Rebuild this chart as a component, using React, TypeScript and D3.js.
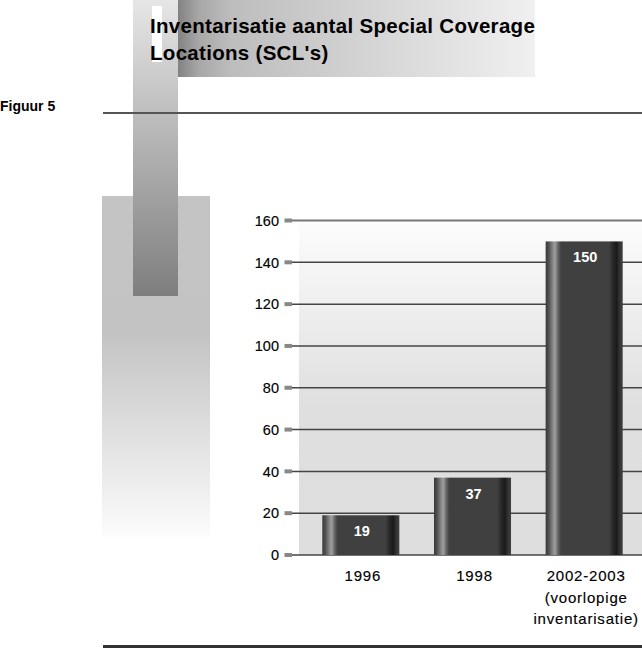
import * as d3 from 'd3'

const categories = ['1996', '1998', '2002-2003']
const counts = [19, 37, 150]
const categoryLabels = [['1996'], ['1998'], ['2002-2003', '(voorlopige', 'inventarisatie)']]
const yTicks = [0, 20, 40, 60, 80, 100, 120, 140, 160]
const titleLines = ['Inventarisatie aantal Special Coverage', "Locations (SCL's)"]

const W = 642
const H = 649
const FONT = '"Liberation Sans", Arial, Helvetica, sans-serif'

function App() {
  const y = d3.scaleLinear().domain([0, 160]).range([555, 220.5])
  const x = d3.scaleBand<string>()
    .domain(categories)
    .range([305, 640])
    .paddingInner(0.31)
    .paddingOuter(0.155)

  const plotLeft = 299
  const plotRight = 642

  return (
    <svg width={W} height={H} style={{ position: 'absolute', left: 0, top: 0, background: '#fff' }}>
      <defs>
        <linearGradient id="wide" x1="0" y1="0" x2="0" y2="1">
          <stop offset="0" stopColor="#c4c4c4" />
          <stop offset="0.4" stopColor="#c3c3c3" />
          <stop offset="1" stopColor="#fcfcfc" />
        </linearGradient>
        <linearGradient id="narrow" x1="0" y1="0" x2="0" y2="1">
          <stop offset="0" stopColor="#e6e6e6" />
          <stop offset="1" stopColor="#7e7e7e" />
        </linearGradient>
        <linearGradient id="banner" x1="0" y1="0" x2="1" y2="0">
          <stop offset="0" stopColor="#828282" />
          <stop offset="0.06" stopColor="#a8a8a8" />
          <stop offset="0.15" stopColor="#bdbdbd" />
          <stop offset="0.45" stopColor="#cfcfcf" />
          <stop offset="1" stopColor="#f0f0f0" />
        </linearGradient>
        <linearGradient id="plotbg" x1="0" y1="0" x2="0" y2="1">
          <stop offset="0" stopColor="#fcfcfc" />
          <stop offset="0.55" stopColor="#dfdfdf" />
          <stop offset="1" stopColor="#dedede" />
        </linearGradient>
        <linearGradient id="bar" x1="0" y1="0" x2="1" y2="0">
          <stop offset="0" stopColor="#383838" />
          <stop offset="0.04" stopColor="#505050" />
          <stop offset="0.08" stopColor="#7a7a7a" />
          <stop offset="0.12" stopColor="#a0a0a0" />
          <stop offset="0.16" stopColor="#666" />
          <stop offset="0.2" stopColor="#404040" />
          <stop offset="0.82" stopColor="#404040" />
          <stop offset="0.87" stopColor="#2a2a2a" />
          <stop offset="0.92" stopColor="#1a1a1a" />
          <stop offset="0.96" stopColor="#333" />
          <stop offset="1" stopColor="#404040" />
        </linearGradient>
      </defs>

      {/* decorative blocks */}
      <rect x={102} y={196} width={108} height={341} fill="url(#wide)" />
      <rect x={133} y={0} width={45} height={296} fill="url(#narrow)" />
      <rect x={178} y={0} width={357} height={77} fill="url(#banner)" />
      <rect x={152} y={6} width={10} height={56} fill="#fff" />

      {/* title */}
      {titleLines.map((t, i) => (
        <text key={t} x={150} y={33 + i * 27} fontFamily={FONT} fontWeight="bold" fontSize={20.5}
          letterSpacing={0.3} fill="#000">{t}</text>
      ))}

      <text x={0} y={111} fontFamily={FONT} fontWeight="bold" fontSize={14} fill="#000">Figuur 5</text>
      <line x1={103} x2={642} y1={113} y2={113} stroke="#555" strokeWidth={2} />

      {/* plot */}
      <rect x={plotLeft} y={y(160) + 2} width={plotRight - plotLeft} height={y(0) - y(160) - 2} fill="url(#plotbg)" />
      {yTicks.map(t => (
        <g key={t}>
          <line x1={292} x2={plotRight} y1={y(t)} y2={y(t)}
            stroke={t === 160 ? '#777' : '#444'} strokeWidth={t === 160 ? 2 : 1.5} />
          <rect x={284.5} y={y(t) - 2} width={7.5} height={4} fill="#888" />
          <text x={279} y={y(t)} dy="0.36em" textAnchor="end" fontFamily={FONT} fontSize={14.5}
            fill="#000" stroke="#000" strokeWidth={0.15}>{t}</text>
        </g>
      ))}

      {categories.map((c, i) => {
        const bx = x(c)!
        const bw = x.bandwidth()
        return (
          <g key={c}>
            <rect x={bx} y={y(counts[i])} width={bw} height={y(0) - y(counts[i])} fill="url(#bar)" />
            <text x={bx + bw / 2 + 1} y={y(counts[i]) + 21} textAnchor="middle" fontFamily={FONT}
              fontWeight="bold" fontSize={14.5} fill="#fff">{counts[i]}</text>
            {categoryLabels[i].map((l, j) => (
              <text key={l} x={bx + bw / 2 + 2} y={581 + j * 21.5} textAnchor="middle" fontFamily={FONT}
                fontSize={15} letterSpacing={0.8} fill="#000" stroke="#000" strokeWidth={0.15}>{l}</text>
            ))}
          </g>
        )
      })}

      <line x1={103} x2={642} y1={646.5} y2={646.5} stroke="#333" strokeWidth={3} />
    </svg>
  )
}

export default App
